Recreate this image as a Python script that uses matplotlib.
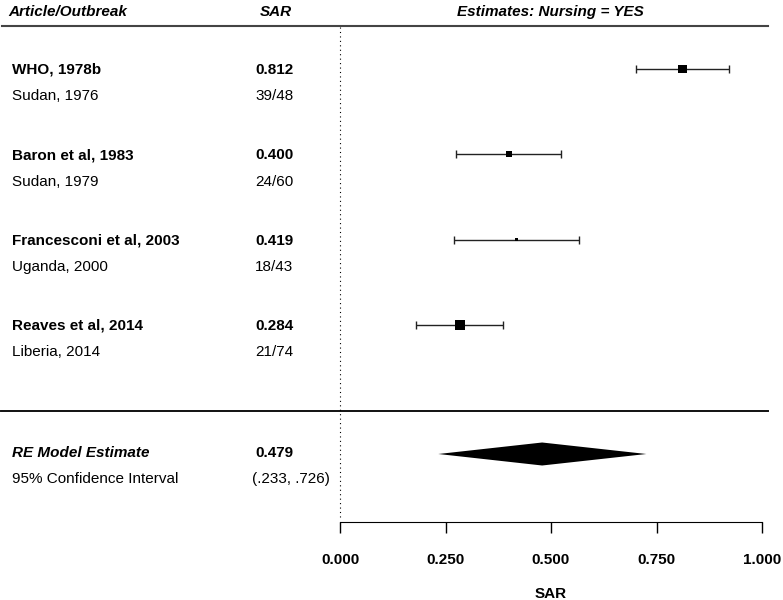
import matplotlib.pyplot as plt
from matplotlib.patches import Polygon

plt.rcParams['font.family'] = ['Liberation Sans', 'DejaVu Sans']

# study level data
studies = ['WHO, 1978b', 'Baron et al, 1983', 'Francesconi et al, 2003', 'Reaves et al, 2014']
outbreaks = ['Sudan, 1976', 'Sudan, 1979', 'Uganda, 2000', 'Liberia, 2014']
cases = ['39/48', '24/60', '18/43', '21/74']
sar = [0.812, 0.400, 0.419, 0.284]
ci_low = [0.701, 0.275, 0.270, 0.180]
ci_high = [0.922, 0.523, 0.566, 0.386]
weights = [31, 21, 10, 38]  # relative study weight (%)

# random effects summary
re_est = 0.479
re_low = 0.233
re_high = 0.726

ticks = [0.0, 0.25, 0.5, 0.75, 1.0]

W, H = 783, 600
fig = plt.figure(figsize=(W / 100, H / 100), dpi=100)
ax = fig.add_axes([0, 0, 1, 1])
# x in SAR units (0 -> px 340, 1 -> px 762), y in pixels from the top
ax.set_xlim(-340 / 422, (W - 340) / 422)
ax.set_ylim(H, 0)
tr = ax.get_yaxis_transform()  # x as fraction of width, y in data

row_y = [69 + 85.3 * i for i in range(len(studies))]
re_y = 454
fs = 11

# headers
hdr = dict(fontsize=11, fontweight='bold', fontstyle='italic', transform=tr, va='baseline')
ax.text(8 / W, 16, 'Article/Outbreak', ha='left', **hdr)
ax.text(276 / W, 16, 'SAR', ha='center', **hdr)
ax.text(550 / W, 16, 'Estimates: Nursing = YES', ha='center', **hdr)
ax.plot([2 / W, 768 / W], [26, 26], color='#444444', lw=1.5, transform=tr)
ax.plot([1 / W, 768 / W], [411, 411], color='#111111', lw=1.4, transform=tr)

# reference line at 0
ax.plot([0, 0], [27, 518], color='black', lw=0.8, dashes=(1, 3))

# study rows
for i, y in enumerate(row_y):
    ax.text(12 / W, y + 5, studies[i], fontsize=fs, fontweight='bold', transform=tr, va='baseline')
    ax.text(12 / W, y + 31.5, outbreaks[i], fontsize=fs, transform=tr, va='baseline')
    ax.text(255 / W, y + 5, f'{sar[i]:.3f}', fontsize=fs, fontweight='bold',
            transform=tr, va='baseline')
    ax.text(255 / W, y + 31.5, cases[i], fontsize=fs, transform=tr, va='baseline')

xerr = [[s - lo for s, lo in zip(sar, ci_low)], [hi - s for s, hi in zip(sar, ci_high)]]
ax.errorbar(sar, row_y, xerr=xerr, fmt='none', ecolor='#222222', elinewidth=1,
            capsize=3, capthick=1)
sizes = [(w * 0.28 * 0.72) ** 2 for w in weights]
ax.scatter(sar, row_y, s=sizes, marker='s', color='black', zorder=3, linewidths=0)

# summary row
ax.text(12 / W, 457, 'RE Model Estimate', fontsize=fs, fontweight='bold', fontstyle='italic',
        transform=tr, va='baseline')
ax.text(12 / W, 483, '95% Confidence Interval', fontsize=fs, transform=tr, va='baseline')
ax.text(255 / W, 457, f'{re_est:.3f}', fontsize=fs, fontweight='bold',
        transform=tr, va='baseline')
ax.text(252 / W, 483, f'({re_low:.3f}, {re_high:.3f})'.replace('0.', '.'), fontsize=fs,
        transform=tr, va='baseline')
ax.add_patch(Polygon([(re_low, re_y), (re_est, re_y - 11.5), (re_high, re_y), (re_est, re_y + 11.5)],
                     closed=True, color='black', lw=0))

# x axis
for side in ['top', 'left', 'right']:
    ax.spines[side].set_visible(False)
ax.spines['bottom'].set_position(('data', 522))
ax.spines['bottom'].set_bounds(0, 1)
ax.set_yticks([])
ax.set_xticks(ticks)
ax.set_xticklabels([f'{t:.3f}' for t in ticks], fontweight='bold')
ax.tick_params(axis='x', direction='out', length=8, width=1, pad=14, labelsize=fs)
ax.text(0.5, 598, 'SAR', fontsize=fs, fontweight='bold', ha='center', va='baseline')

plt.savefig('out.png', dpi=100)
